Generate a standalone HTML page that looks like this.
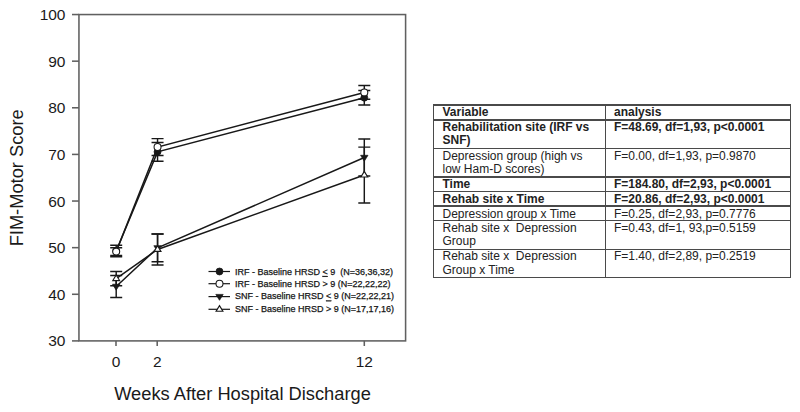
<!DOCTYPE html>
<html><head><meta charset="utf-8"><style>
html,body{margin:0;padding:0;background:#fff;}
body{width:800px;height:412px;position:relative;overflow:hidden;font-family:"Liberation Sans",sans-serif;}
svg{position:absolute;left:0;top:0;font-family:"Liberation Sans",sans-serif;}
.b{position:absolute;background:#4a4a4a;}
.c{position:absolute;font-size:12px;line-height:13.5px;color:#222;white-space:nowrap;}
</style></head><body>
<svg width="800" height="412" viewBox="0 0 800 412">
<rect x="78.95" y="14.55" width="326.65" height="326.35" fill="none" stroke="#606060" stroke-width="1.55"/>
<line x1="72" y1="340.90" x2="78.95" y2="340.90" stroke="#606060" stroke-width="1.55"/>
<text x="65.5" y="346.40" text-anchor="end" font-size="15.5" fill="#1a1a1a">30</text>
<line x1="72" y1="294.28" x2="78.95" y2="294.28" stroke="#606060" stroke-width="1.55"/>
<text x="65.5" y="299.78" text-anchor="end" font-size="15.5" fill="#1a1a1a">40</text>
<line x1="72" y1="247.66" x2="78.95" y2="247.66" stroke="#606060" stroke-width="1.55"/>
<text x="65.5" y="253.16" text-anchor="end" font-size="15.5" fill="#1a1a1a">50</text>
<line x1="72" y1="201.04" x2="78.95" y2="201.04" stroke="#606060" stroke-width="1.55"/>
<text x="65.5" y="206.54" text-anchor="end" font-size="15.5" fill="#1a1a1a">60</text>
<line x1="72" y1="154.41" x2="78.95" y2="154.41" stroke="#606060" stroke-width="1.55"/>
<text x="65.5" y="159.91" text-anchor="end" font-size="15.5" fill="#1a1a1a">70</text>
<line x1="72" y1="107.79" x2="78.95" y2="107.79" stroke="#606060" stroke-width="1.55"/>
<text x="65.5" y="113.29" text-anchor="end" font-size="15.5" fill="#1a1a1a">80</text>
<line x1="72" y1="61.17" x2="78.95" y2="61.17" stroke="#606060" stroke-width="1.55"/>
<text x="65.5" y="66.67" text-anchor="end" font-size="15.5" fill="#1a1a1a">90</text>
<line x1="72" y1="14.55" x2="78.95" y2="14.55" stroke="#606060" stroke-width="1.55"/>
<text x="65.5" y="20.05" text-anchor="end" font-size="15.5" fill="#1a1a1a">100</text>
<line x1="116.00" y1="340.9" x2="116.00" y2="346" stroke="#606060" stroke-width="1.55"/>
<text x="116.00" y="366.5" text-anchor="middle" font-size="15.5" fill="#1a1a1a">0</text>
<line x1="157.20" y1="340.9" x2="157.20" y2="346" stroke="#606060" stroke-width="1.55"/>
<text x="157.20" y="366.5" text-anchor="middle" font-size="15.5" fill="#1a1a1a">2</text>
<line x1="364.30" y1="340.9" x2="364.30" y2="346" stroke="#606060" stroke-width="1.55"/>
<text x="364.30" y="366.5" text-anchor="middle" font-size="15.5" fill="#1a1a1a">12</text>
<text x="242.5" y="399.7" text-anchor="middle" font-size="18.3" fill="#1a1a1a">Weeks After Hospital Discharge</text>
<text transform="translate(22.7,177.8) rotate(-90)" text-anchor="middle" font-size="18.3" fill="#1a1a1a">FIM-Motor Score</text>
<path d="M116.20,245.30V256.80M110.20,245.30H122.20M110.20,256.80H122.20M157.55,142.40V161.30M151.55,142.40H163.55M151.55,161.30H163.55M364.30,90.50V104.90M358.30,90.50H370.30M358.30,104.90H370.30" stroke="#181818" stroke-width="1.45" fill="none"/>
<polyline points="116.20,251.05 157.55,151.85 364.30,97.70" stroke="#181818" stroke-width="1.5" fill="none"/>
<circle cx="116.20" cy="251.05" r="3.46" fill="#181818" stroke="#181818" stroke-width="0.8"/>
<circle cx="157.55" cy="151.85" r="3.46" fill="#181818" stroke="#181818" stroke-width="0.8"/>
<circle cx="364.30" cy="97.70" r="3.46" fill="#181818" stroke="#181818" stroke-width="0.8"/>
<path d="M116.20,247.70V255.50M110.20,247.70H122.20M110.20,255.50H122.20M157.55,138.60V155.50M151.55,138.60H163.55M151.55,155.50H163.55M364.30,85.50V99.30M358.30,85.50H370.30M358.30,99.30H370.30" stroke="#181818" stroke-width="1.45" fill="none"/>
<polyline points="116.20,251.60 157.55,147.05 364.30,92.40" stroke="#181818" stroke-width="1.5" fill="none"/>
<circle cx="116.20" cy="251.60" r="3.49" fill="#fff" stroke="#181818" stroke-width="1.05"/>
<circle cx="157.55" cy="147.05" r="3.49" fill="#fff" stroke="#181818" stroke-width="1.05"/>
<circle cx="364.30" cy="92.40" r="3.49" fill="#fff" stroke="#181818" stroke-width="1.05"/>
<path d="M116.20,275.40V297.50M110.20,275.40H122.20M110.20,297.50H122.20M157.55,234.00V261.80M151.55,234.00H163.55M151.55,261.80H163.55M364.30,139.00V176.00M358.30,139.00H370.30M358.30,176.00H370.30" stroke="#181818" stroke-width="1.45" fill="none"/>
<polyline points="116.20,286.45 157.55,247.90 364.30,157.50" stroke="#181818" stroke-width="1.5" fill="none"/>
<path d="M112.50,284.25H119.90L116.20,290.15Z" fill="#181818" stroke="#181818" stroke-width="0.7"/>
<path d="M153.85,245.70H161.25L157.55,251.60Z" fill="#181818" stroke="#181818" stroke-width="0.7"/>
<path d="M360.60,155.30H368.00L364.30,161.20Z" fill="#181818" stroke="#181818" stroke-width="0.7"/>
<path d="M116.20,271.50V285.80M110.20,271.50H122.20M110.20,285.80H122.20M157.55,234.00V264.90M151.55,234.00H163.55M151.55,264.90H163.55M364.30,147.10V203.00M358.30,147.10H370.30M358.30,203.00H370.30" stroke="#181818" stroke-width="1.45" fill="none"/>
<polyline points="116.20,278.65 157.55,249.45 364.30,175.05" stroke="#181818" stroke-width="1.5" fill="none"/>
<path d="M112.80,280.55H119.60L116.20,274.95Z" fill="#fff" stroke="#181818" stroke-width="1.15"/>
<path d="M154.15,251.35H160.95L157.55,245.75Z" fill="#fff" stroke="#181818" stroke-width="1.15"/>
<path d="M360.90,176.95H367.70L364.30,171.35Z" fill="#fff" stroke="#181818" stroke-width="1.15"/>
<line x1="208.5" y1="271.50" x2="230" y2="271.50" stroke="#181818" stroke-width="1.2"/>
<circle cx="219.50" cy="271.50" r="3.46" fill="#181818" stroke="#181818" stroke-width="0.8"/>
<text x="235" y="275.00" font-size="9" fill="#151515" stroke="#151515" stroke-width="0.25" xml:space="preserve">IRF - Baseline HRSD <tspan text-decoration="underline">&lt;</tspan> 9  (N=36,36,32)</text>
<line x1="208.5" y1="283.70" x2="230" y2="283.70" stroke="#181818" stroke-width="1.2"/>
<circle cx="219.50" cy="283.70" r="3.49" fill="#fff" stroke="#181818" stroke-width="1.05"/>
<text x="235" y="287.20" font-size="9" fill="#151515" stroke="#151515" stroke-width="0.25" xml:space="preserve">IRF - Baseline HRSD &gt; 9 (N=22,22,22)</text>
<line x1="208.5" y1="296.60" x2="230" y2="296.60" stroke="#181818" stroke-width="1.2"/>
<path d="M215.80,294.40H223.20L219.50,300.30Z" fill="#181818" stroke="#181818" stroke-width="0.7"/>
<text x="235" y="299.40" font-size="9" fill="#151515" stroke="#151515" stroke-width="0.25" xml:space="preserve">SNF - Baseline HRSD <tspan text-decoration="underline">&lt;</tspan> 9 (N=22,22,21)</text>
<line x1="208.5" y1="309.30" x2="230" y2="309.30" stroke="#181818" stroke-width="1.2"/>
<path d="M216.10,311.20H222.90L219.50,305.60Z" fill="#fff" stroke="#181818" stroke-width="1.15"/>
<text x="235" y="311.80" font-size="9" fill="#151515" stroke="#151515" stroke-width="0.25" xml:space="preserve">SNF - Baseline HRSD &gt; 9 (N=17,17,16)</text>
</svg>
<div class="b" style="left:433.05px;top:104.20px;width:358.15px;height:1.4px"></div><div class="b" style="left:433.05px;top:119.20px;width:358.15px;height:1.4px"></div><div class="b" style="left:433.05px;top:147.70px;width:358.15px;height:1.4px"></div><div class="b" style="left:433.05px;top:176.00px;width:358.15px;height:2.0px"></div><div class="b" style="left:433.05px;top:190.80px;width:358.15px;height:1.4px"></div><div class="b" style="left:433.05px;top:205.20px;width:358.15px;height:1.4px"></div><div class="b" style="left:433.05px;top:219.90px;width:358.15px;height:1.4px"></div><div class="b" style="left:433.05px;top:248.70px;width:358.15px;height:1.4px"></div><div class="b" style="left:433.05px;top:277.10px;width:358.15px;height:1.4px"></div><div class="b" style="left:433.05px;top:104.20px;width:1.4px;height:174.30px"></div><div class="b" style="left:604.55px;top:104.20px;width:1.4px;height:174.30px"></div><div class="b" style="left:789.80px;top:104.20px;width:1.4px;height:174.30px"></div><div class="c" style="left:442.5px;top:105.85px;font-weight:bold">Variable</div><div class="c" style="left:614px;top:105.85px;font-weight:bold">analysis</div><div class="c" style="left:442.5px;top:120.75px;font-weight:bold">Rehabilitation site (IRF vs<br>SNF)</div><div class="c" style="left:614px;top:120.75px;font-weight:bold">F=48.69, df=1,93, p&lt;0.0001</div><div class="c" style="left:442.5px;top:149.85px;font-weight:normal">Depression group (high vs<br>low Ham-D scores)</div><div class="c" style="left:614px;top:149.85px;font-weight:normal">F=0.00, df=1,93, p=0.9870</div><div class="c" style="left:442.5px;top:177.75px;font-weight:bold">Time</div><div class="c" style="left:614px;top:177.75px;font-weight:bold">F=184.80, df=2,93, p&lt;0.0001</div><div class="c" style="left:442.5px;top:192.55px;font-weight:bold">Rehab site x Time</div><div class="c" style="left:614px;top:192.55px;font-weight:bold">F=20.86, df=2,93, p&lt;0.0001</div><div class="c" style="left:442.5px;top:207.75px;font-weight:normal">Depression group x Time</div><div class="c" style="left:614px;top:207.75px;font-weight:normal">F=0.25, df=2,93, p=0.7776</div><div class="c" style="left:442.5px;top:221.95px;font-weight:normal">Rehab site x&nbsp; Depression<br>Group</div><div class="c" style="left:614px;top:221.95px;font-weight:normal">F=0.43, df=1, 93,p=0.5159</div><div class="c" style="left:442.5px;top:250.35px;font-weight:normal">Rehab site x&nbsp; Depression<br>Group x Time</div><div class="c" style="left:614px;top:250.35px;font-weight:normal">F=1.40, df=2,89, p=0.2519</div>
</body></html>
